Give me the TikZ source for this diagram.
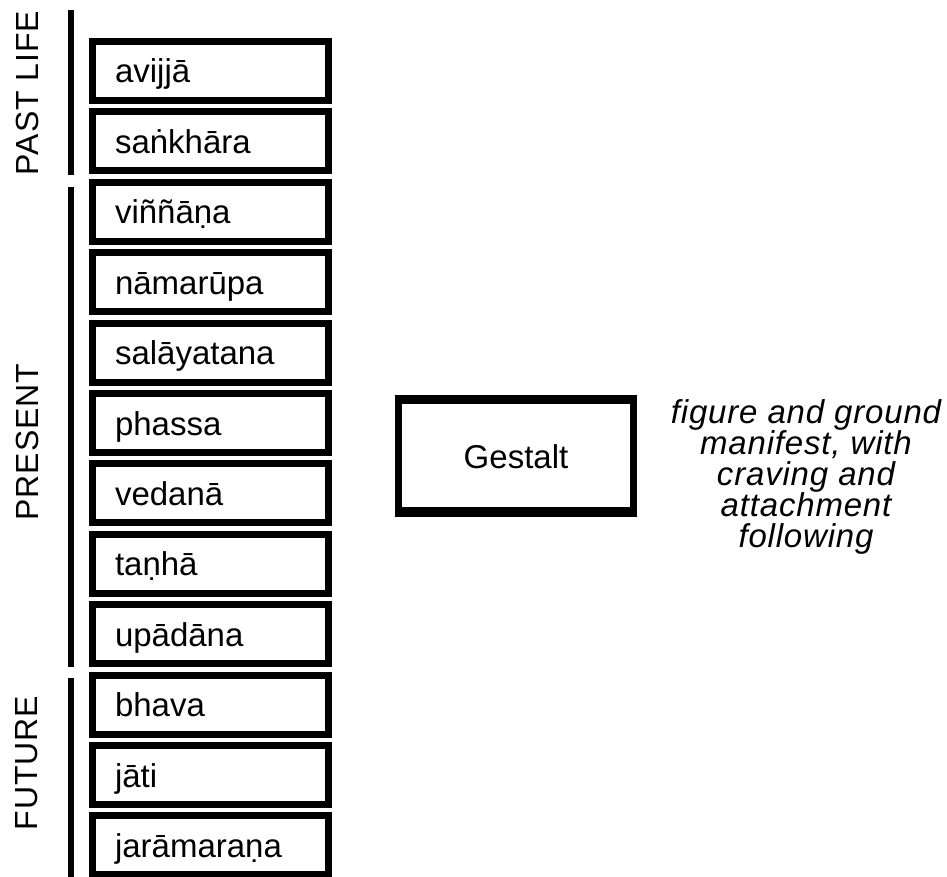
\documentclass[tikz,border=0pt]{standalone}
\usepackage{fontspec}
\setmainfont{Liberation Sans}
\usetikzlibrary{positioning}
\tikzset{
  stagebox/.style={draw, line width=7pt, fill=white, minimum width=236pt, minimum height=59pt,
    inner xsep=22.5pt, inner ysep=0pt, text width=191pt, align=left, text height=27pt, text depth=3pt},
  gestaltbox/.style={draw, line width=7pt, fill=white, minimum width=235pt, minimum height=115pt,
    text height=27pt, text depth=3pt},
  periodlabel/.style={rotate=90, inner sep=0pt, font=\fontsize{32}{32}\selectfont\addfontfeatures{LetterSpace=3}},
  periodline/.style={line width=6pt},
  notetext/.style={anchor=north, inner sep=0pt, align=center,
    font=\itshape\fontsize{33}{31}\selectfont\addfontfeatures{LetterSpace=2.5}}
}

\begin{document}
\begin{tikzpicture}[x=1pt, y=-1pt, every node/.style={font=\fontsize{33}{31}\selectfont}]
  \useasboundingbox (0,0) rectangle (947,877);

  % the twelve links, top to bottom
  \node[stagebox] (avijja)     at (210.5,71)    {avijjā};
  \node[stagebox] (sankhara)   at (210.5,141.4) {saṅkhāra};
  \node[stagebox] (vinnana)    at (210.5,211.8) {viññāṇa};
  \node[stagebox] (namarupa)   at (210.5,282.2) {nāmarūpa};
  \node[stagebox] (salayatana) at (210.5,352.6) {salāyatana};
  \node[stagebox] (phassa)     at (210.5,423)   {phassa};
  \node[stagebox] (vedana)     at (210.5,493.4) {vedanā};
  \node[stagebox] (tanha)      at (210.5,563.8) {taṇhā};
  \node[stagebox] (upadana)    at (210.5,634.2) {upādāna};
  \node[stagebox] (bhava)      at (210.5,704.6) {bhava};
  \node[stagebox] (jati)       at (210.5,775)   {jāti};
  \node[stagebox] (jaramarana) at (210.5,845.4) {jarāmaraṇa};

  % brackets for the three lives
  \draw[periodline] (71,10) -- (71,175);
  \draw[periodline] (71,187) -- (71,667);
  \draw[periodline] (71,678) -- (71,877);
  \node[periodlabel] (past)    at (27,93)  {PAST LIFE};
  \node[periodlabel] (present) at (27,442) {PRESENT};
  \node[periodlabel] (future)  at (27,763) {FUTURE};

  % gestalt box, heavier on top and bottom
  \node[gestaltbox] (gestalt) at (516,456) {Gestalt};
  \fill (gestalt.north west) rectangle ([yshift=-8.5pt]gestalt.north east);
  \fill ([yshift=10.5pt]gestalt.south west) rectangle (gestalt.south east);

  \node[notetext] (note) at (806,399.5) {figure and ground\\manifest, with\\craving and\\attachment\\following};
\end{tikzpicture}
\end{document}
